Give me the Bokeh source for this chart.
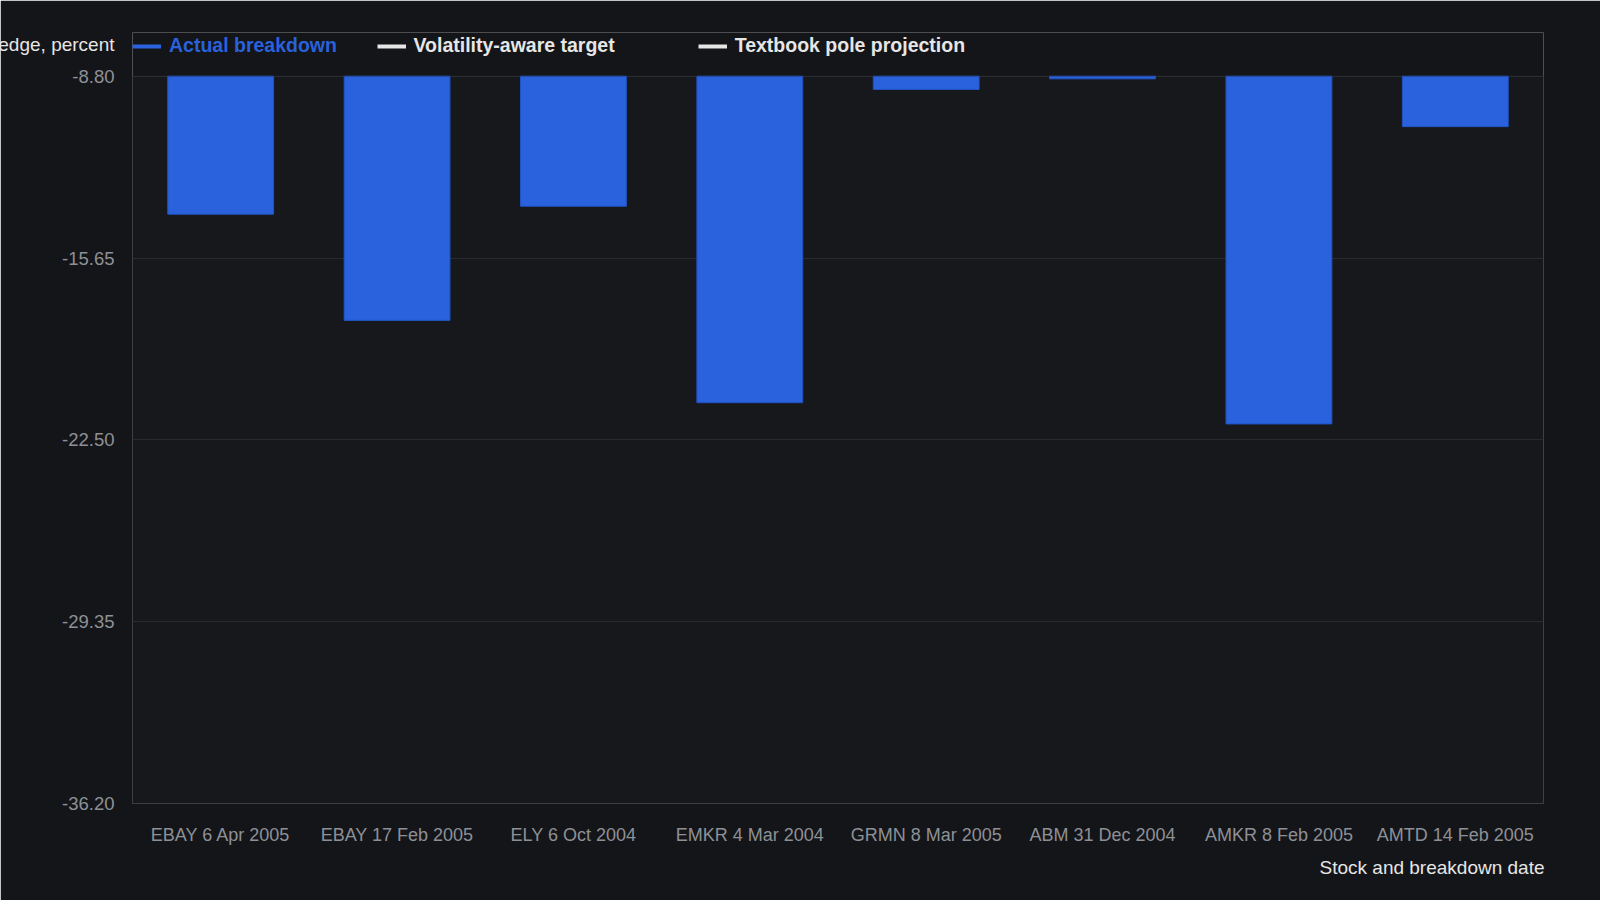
import pandas as pd
from bokeh.models import (ColumnDataSource, FactorRange, Range1d, FixedTicker,
                          NumeralTickFormatter, Legend, LegendItem, Title, BoxAnnotation)
from bokeh.plotting import figure
from bokeh.embed import file_html
from bokeh.resources import INLINE

nan = float("nan")

# 銘柄とブレイク日
stocks = ["EBAY 6 Apr 2005", "EBAY 17 Feb 2005", "ELY 6 Oct 2004", "EMKR 4 Mar 2004",
          "GRMN 8 Mar 2005", "ABM 31 Dec 2004", "AMKR 8 Feb 2005", "AMTD 14 Feb 2005"]
actual_breakdown = [-14.0, -18.0, -13.7, -21.1, -9.3, -8.9, -21.9, -10.7]
# 目標値は表示範囲に現れない
volatility_target = [nan, nan, nan, nan, nan, nan, nan, nan]
pole_projection = [nan, nan, nan, nan, nan, nan, nan, nan]
y_ticks = [-36.2, -29.35, -22.5, -15.65, -8.8]

BG = "#141519"
PLOT_BG = "#17181c"
BLUE = "#2a61dc"
WHITE = "#e6e6e6"
GRAY = "#8e9096"
OUTLINE = "#34363a"

# 描画枠は凡例の行まで上に伸ばし、値の範囲は y=76px から下に置く
FRAME_TOP, DATA_TOP, DATA_BOTTOM = 32, 75.7, 803
px_per_unit = (DATA_BOTTOM - DATA_TOP) / (y_ticks[-1] - y_ticks[0])
y_top = y_ticks[-1] + (DATA_TOP - FRAME_TOP) / px_per_unit

df = pd.DataFrame({"stock": stocks, "actual": actual_breakdown,
                   "vol": volatility_target, "pole": pole_projection})
src = ColumnDataSource(df)

p = figure(x_range=FactorRange(*stocks, range_padding=0),
           y_range=Range1d(y_ticks[0], y_top),
           width=1600, height=900, output_backend="svg", toolbar_location=None,
           min_border_left=132, min_border_right=57, min_border_top=FRAME_TOP,
           min_border_bottom=900 - DATA_BOTTOM)
p.background_fill_color = BG
p.border_fill_color = BG
p.outline_line_color = None

p.xgrid.grid_line_color = None
p.ygrid.grid_line_color = "#2a2b30"

# 値の範囲だけ背景色を変える (グリッドより下に描く)
p.add_layout(BoxAnnotation(bottom=y_ticks[0], top=y_ticks[-1], fill_color=PLOT_BG,
                           fill_alpha=1, line_color=None, level="image"))
p.add_layout(BoxAnnotation(bottom=y_ticks[0], top=y_ticks[-1], fill_alpha=0,
                           line_color=OUTLINE, line_width=1))

p.vbar(x="stock", top=y_ticks[-1], bottom="actual", width=0.6, source=src,
       fill_color=BLUE, line_color="#2153c4", line_width=1)
# 凡例用の線 (実績は棒で描くので線は非表示)
act_line = p.line("stock", "actual", source=src, line_color=BLUE, line_width=4, visible=False)
vol_line = p.line("stock", "vol", source=src, line_color=WHITE, line_width=4)
pole_line = p.line("stock", "pole", source=src, line_color=WHITE, line_width=4)

p.yaxis.ticker = FixedTicker(ticks=y_ticks)
p.yaxis.formatter = NumeralTickFormatter(format="0.00")
for ax in [p.xaxis[0], p.yaxis[0]]:
    ax.axis_line_color = None
    ax.major_tick_line_color = None
    ax.minor_tick_line_color = None
    ax.major_tick_out = 0
    ax.major_tick_in = 0
    ax.major_label_text_color = GRAY
    ax.major_label_text_font = "Liberation Sans"
p.yaxis.major_label_text_font_size = "18.5px"
p.yaxis.major_label_standoff = 18
p.xaxis.major_label_text_font_size = "18px"
p.xaxis.major_label_standoff = 21

# 軸タイトル (y は左端で切れる)
p.add_layout(Title(text="Decline below the wedge, percent", align="right", offset=1429,
                   vertical_align="bottom", standoff=-45, text_color=WHITE,
                   text_font="Liberation Sans", text_font_style="normal",
                   text_font_size="19px"), "above")
p.add_layout(Title(text="Stock and breakdown date", align="right", offset=-1,
                   vertical_align="top", standoff=19, text_color=WHITE,
                   text_font="Liberation Sans", text_font_style="normal",
                   text_font_size="19px"), "below")


def make_legend(items, x, text_color, spacing=0):
    return Legend(items=items, location=(x, DATA_BOTTOM - 57), orientation="horizontal",
                  padding=0, margin=0, spacing=spacing,
                  glyph_width=29, glyph_height=20, label_height=20, label_standoff=8,
                  label_text_font="Liberation Sans", label_text_font_style="bold",
                  label_text_font_size="19.5px", label_text_color=text_color,
                  background_fill_alpha=0, border_line_color=None,
                  inactive_fill_alpha=0)


p.add_layout(make_legend([LegendItem(label="Actual breakdown", renderers=[act_line])],
                         0, BLUE))
p.add_layout(make_legend([LegendItem(label="Volatility-aware target", renderers=[vol_line]),
                          LegendItem(label="Textbook pole projection", renderers=[pole_line])],
                         244.5, WHITE, spacing=83))

open("out.html", "w").write(file_html(p, INLINE))
